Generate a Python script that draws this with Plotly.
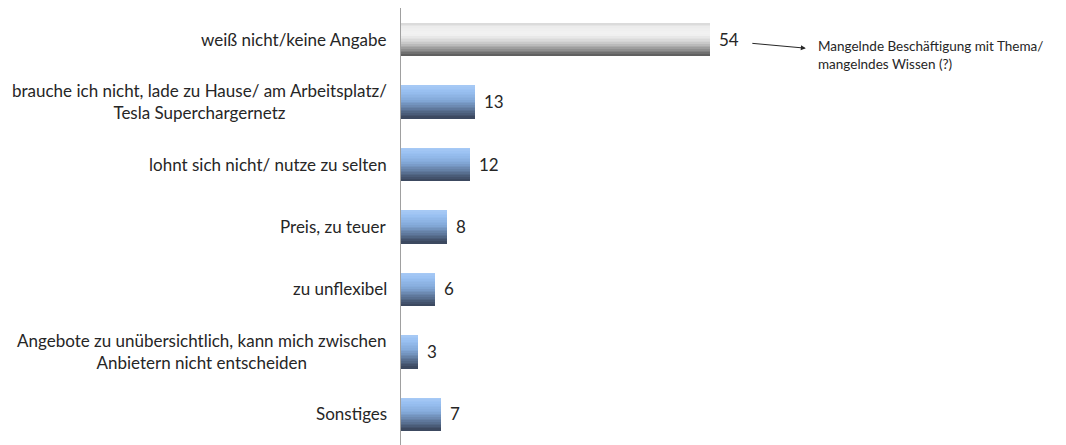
import plotly.graph_objects as go

categories = [
    "weiß nicht/keine Angabe",
    "brauche ich nicht, lade zu Hause/ am Arbeitsplatz/<br>Tesla Superchargernetz",
    "lohnt sich nicht/ nutze zu selten",
    "Preis, zu teuer",
    "zu unflexibel",
    "Angebote zu unübersichtlich, kann mich zwischen<br>Anbietern nicht entscheiden",
    "Sonstiges",
]
values = [54, 13, 12, 8, 6, 3, 7]
styles = ["gray", "blue", "blue", "blue", "blue", "blue", "blue"]
note_text = "Mangelnde Beschäftigung mit Thema/<br>mangelndes Wissen (?)"

FONT = "Lato"
gradients = {
    "gray": [(0.0, (214, 214, 214)), (0.12, (236, 236, 236)), (0.35, (243, 243, 243)),
             (0.6, (208, 208, 208)), (0.85, (136, 136, 136)), (1.0, (88, 88, 88))],
    "blue": [(0.0, (168, 202, 245)), (0.15, (155, 194, 243)), (0.45, (132, 170, 218)),
             (0.75, (92, 116, 150)), (1.0, (56, 68, 90))],
}


def interp(stops, t):
    for (t0, c0), (t1, c1) in zip(stops, stops[1:]):
        if t0 <= t <= t1:
            f = (t - t0) / (t1 - t0) if t1 > t0 else 0
            return "rgb(%d,%d,%d)" % tuple(round(a + (b - a) * f) for a, b in zip(c0, c1))
    return "rgb(%d,%d,%d)" % stops[-1][1]


bar_w = 0.52
N = 20
sl = bar_w / N
fig = go.Figure()
ypos = list(range(len(categories)))
for i in range(N):
    t = (i + 0.5) / N
    cols = [interp(gradients[s], t) for s in styles]
    fig.add_trace(go.Bar(
        y=ypos, x=values, orientation="h",
        width=sl * 1.6, offset=-bar_w / 2 + i * sl,
        marker=dict(color=cols, line=dict(width=0)),
        hoverinfo="skip", showlegend=False,
    ))

for yv, v in zip(ypos, values):
    fig.add_annotation(
        x=v, y=yv, xref="x", yref="y", text=str(v), showarrow=False,
        xanchor="left", yanchor="middle", xshift=7,
        font=dict(family=FONT, size=17, color="#262626"),
    )

for yv, cat in zip(ypos, categories):
    fig.add_annotation(
        x=0, xref="paper", y=yv, yref="y", text=cat, showarrow=False,
        xanchor="right", yanchor="middle", align="center", xshift=-12,
        font=dict(family=FONT, size=17, color="#262626"),
    )

fig.add_annotation(
    x=70.8, y=0, xref="x", yref="y", yshift=-9, text="", showarrow=True,
    ax=-55, ay=-5, arrowhead=2, arrowsize=1, arrowwidth=1, arrowcolor="#262626",
)
fig.add_annotation(
    x=72.6, y=0, xref="x", yref="y", yshift=-16, text=note_text, showarrow=False,
    xanchor="left", yanchor="middle", align="left",
    font=dict(family=FONT, size=13.5, color="#262626"),
)

fig.update_layout(
    width=1058, height=437,
    margin=dict(l=393, r=0, t=0, b=0),
    paper_bgcolor="white", plot_bgcolor="white",
    barmode="overlay", bargap=0,
    xaxis=dict(range=[0, 116.3], visible=False, fixedrange=True),
    yaxis=dict(range=[6.5, -0.5], showticklabels=False, ticks="", showgrid=False,
               zeroline=False, showline=True, linecolor="#a0a0a0", linewidth=1),
)
fig.write_html("out.html")
